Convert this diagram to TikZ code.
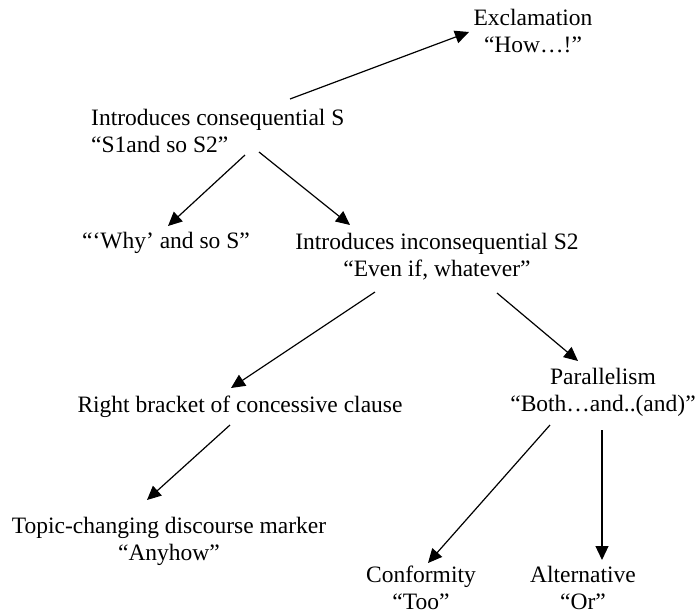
\documentclass[tikz,border=0pt]{standalone}
\usepackage{fontspec}
\setmainfont{Liberation Serif}
\usetikzlibrary{arrows.meta}
\begin{document}
\begin{tikzpicture}[x=1pt,y=-1pt,
  lbl/.style={inner sep=0pt,align=center,font=\fontsize{23.5}{27}\selectfont},
  arr/.style={draw=black,line width=1.2pt,-{Triangle[length=14pt,width=13pt]}}]
\useasboundingbox[fill=white] (0,0) rectangle (697,614);

% nodes
\node[lbl] (excl) at (533,31.5) {Exclamation\\“How…!”};
\node[lbl,align=left,anchor=west] (cons) at (91,131) {Introduces consequential S\\“S1and so S2”};
\node[lbl] (why) at (166,243) {“‘Why’ and so S”};
\node[lbl] (incons) at (437,257) {Introduces inconsequential S2\\“Even if, whatever”};
\node[lbl] (rb) at (240,407) {Right bracket of concessive clause};
\node[lbl] (par) at (603,392.5) {Parallelism\\“Both…and..(and)”};
\node[lbl] (topic) at (169,541) {Topic-changing discourse marker\\“Anyhow”};
\node[lbl] (conf) at (421,588) {Conformity\\“Too”};
\node[lbl] (alt) at (583,588) {Alternative\\“Or”};

% connectors
\draw[arr] ([shift={(199,-32)}]cons.west) -- ([shift={(-64,0.5)}]excl.center);
\draw[arr] ([shift={(154,24)}]cons.west) -- ([shift={(2,-17)}]why.center);
\draw[arr] ([shift={(168,21)}]cons.west) -- ([shift={(-87,-32)}]incons.center);
\draw[arr] ([shift={(-62,35)}]incons.center) -- ([shift={(-9,-19)}]rb.center);
\draw[arr] ([shift={(60,36)}]incons.center) -- ([shift={(-25,-31.5)}]par.center);
\draw[arr] ([shift={(-10,18)}]rb.center) -- ([shift={(-22,-41)}]topic.center);
\draw[arr] ([shift={(-53,32.5)}]par.center) -- ([shift={(7,-25)}]conf.center);
\draw[arr] ([shift={(-1,37.5)}]par.center) -- ([shift={(19,-28)}]alt.center);
\end{tikzpicture}
\end{document}
